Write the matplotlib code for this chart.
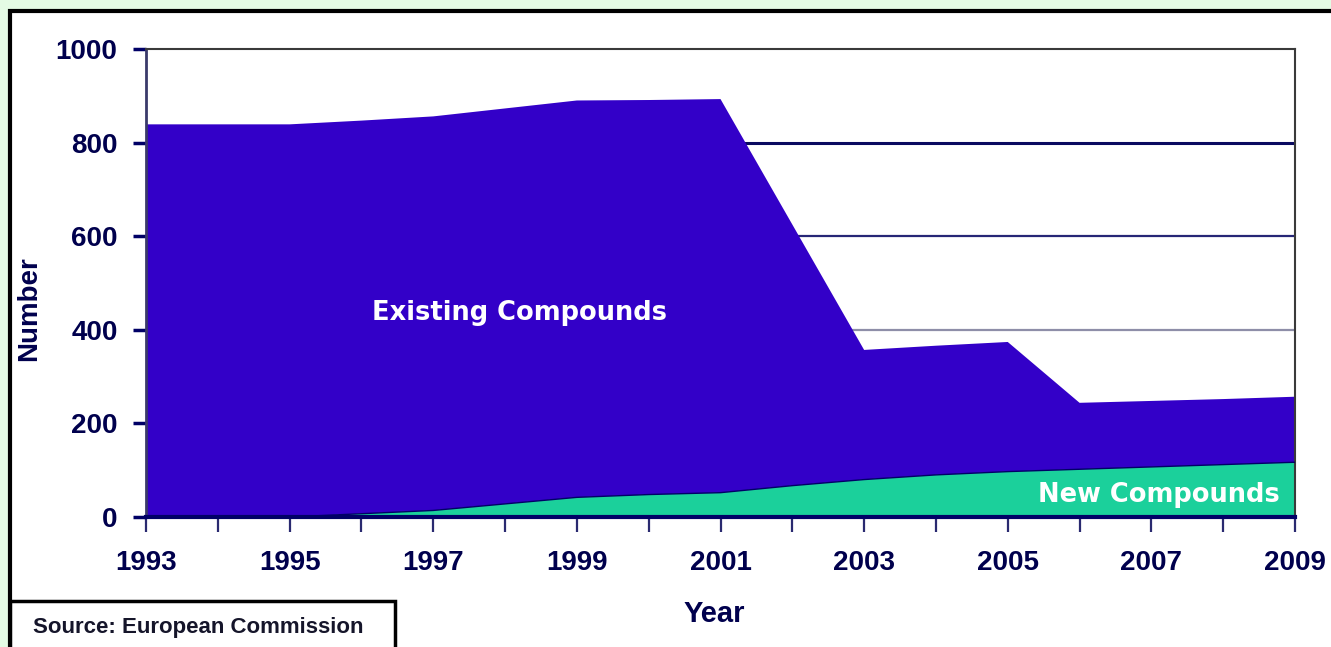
import matplotlib
matplotlib.use("Agg")
import matplotlib.pyplot as plt
from matplotlib.patches import Rectangle

# ---- data ----
years = [1993, 1994, 1995, 1996, 1997, 1998, 1999, 2000, 2001,
         2002, 2003, 2004, 2005, 2006, 2007, 2008, 2009]
new_compounds = [0, 0, 0, 7, 14, 28, 42, 48, 52,
                 67, 80, 90, 97, 102, 107, 112, 117]
existing_compounds = [839, 839, 839, 840, 842, 845, 848, 843, 841,
                      558, 277, 276, 277, 142, 141, 140, 140]
y_ticks = [0, 200, 400, 600, 800, 1000]
x_tick_labels = [str(y) if y % 2 == 1 else "" for y in years]

W, H = 1331, 647
fig = plt.figure(figsize=(W / 100, H / 100), dpi=100)
fig.patch.set_facecolor("#E4FBE4")

# outer frame (white panel with black border, extends off right/bottom)
fig.patches.append(Rectangle((10 / W, -0.2), 1.2, 0.2 + (1 - 11 / H),
                             transform=fig.transFigure, facecolor="white",
                             edgecolor="black", lw=3, zorder=-2))
# source box
fig.patches.append(Rectangle((10 / W, -0.2), (395 - 10) / W, 0.2 + (1 - 601 / H),
                             transform=fig.transFigure, facecolor="white",
                             edgecolor="black", lw=2.5, zorder=-1))

navy = "#000066"
purple = "#3300C8"
green = "#1BD09B"

ax = fig.add_axes([146 / W, 1 - 517 / H, (1295 - 146) / W, (517 - 49) / H])
ax.set_zorder(2)
ax.set_facecolor("white")
ax.stackplot(years, new_compounds, existing_compounds,
             colors=[green, purple], linewidth=0, zorder=2)
ax.plot(years, new_compounds, color=navy, lw=1.0, zorder=3)

ax.set_xlim(years[0], years[-1])
ax.set_ylim(0, 1000)

ax.set_yticks(y_ticks)
ax.set_yticklabels([str(v) for v in y_ticks])
ax.set_xticks(years)
ax.set_xticklabels(x_tick_labels)

# horizontal gridlines (behind the areas)
grid_styles = {200: ("#1c1c70", 1.6), 400: ("#8e8ea8", 1.6),
               600: ("#262676", 1.6), 800: ("#0a0a60", 2.2)}
for v in y_ticks:
    if v in grid_styles:
        c, w = grid_styles[v]
        ax.axhline(v, color=c, lw=w, zorder=1)

ax.tick_params(axis="y", direction="out", length=9.5, width=2.5, color=navy,
               pad=11, labelsize=20, labelcolor="#00004d")
ax.tick_params(axis="x", direction="out", length=11, width=1.6, color="#2a2a70",
               pad=13, labelsize=20, labelcolor="#00004d")
for lbl in ax.get_xticklabels() + ax.get_yticklabels():
    lbl.set_fontfamily("Liberation Sans")
    lbl.set_fontweight("bold")

for s in ("top", "right"):
    ax.spines[s].set_color("#3a3a3a")
    ax.spines[s].set_linewidth(1.5)
ax.spines["left"].set_color("#3a3a6a")
ax.spines["left"].set_linewidth(2)
ax.spines["bottom"].set_color(navy)
ax.spines["bottom"].set_linewidth(3)
ax.spines["bottom"].set_zorder(4)

# labels
fig.text(29 / W, 1 - 309 / H, "Number", rotation=90, ha="center", va="center",
         fontsize=20, fontweight="bold", color="#00004d", family="Liberation Sans")
fig.text(714 / W, 1 - 614 / H, "Year", ha="center", va="center",
         fontsize=21, fontweight="bold", color="#00004d", family="Liberation Sans")
fig.text(33 / W, 1 - 627 / H, "Source: European Commission", ha="left", va="center",
         fontsize=16, fontweight="bold", color="#15152a", family="Liberation Sans")

ax.text(1998.2, 436, "Existing Compounds", ha="center", va="center",
        fontsize=18.5, fontweight="bold", color="white", family="DejaVu Sans", zorder=5)
ax.text(2008.79, 47, "New Compounds", ha="right", va="center",
        fontsize=18.5, fontweight="bold", color="white", family="DejaVu Sans", zorder=5)

fig.savefig("out.png", dpi=100, facecolor=fig.get_facecolor())
